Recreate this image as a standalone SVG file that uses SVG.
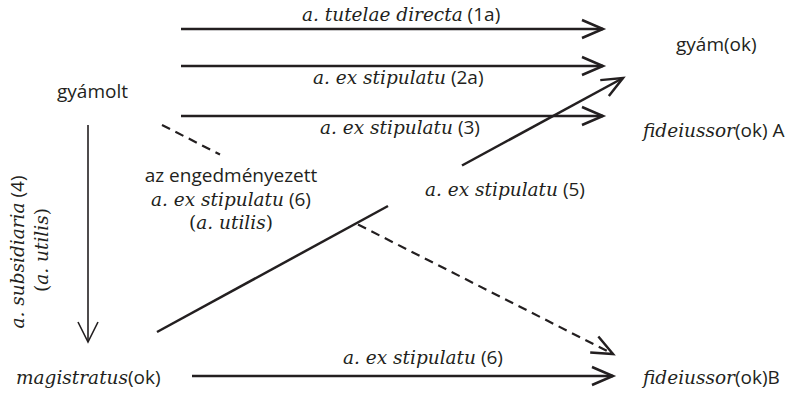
<svg xmlns="http://www.w3.org/2000/svg" width="800" height="395" viewBox="0 0 800 395">
<style>
.sans{font-family:"Open Sans","Liberation Sans",sans-serif;font-size:19px;fill:#231f20}
.it{font-family:"DejaVu Serif","Liberation Serif",serif;font-style:italic;font-size:18.5px;fill:#231f20}
.ser{font-family:"DejaVu Serif","Liberation Serif",serif;font-size:18.5px;fill:#231f20}
.ln{fill:none;stroke:#231f20;stroke-width:2.5}
.thin{fill:none;stroke:#231f20;stroke-width:1.6}
.dash{fill:none;stroke:#231f20;stroke-width:2.2;stroke-dasharray:9 6}
</style>
<defs>
<marker id="ah" markerUnits="userSpaceOnUse" viewBox="-24 -14 28 28" refX="0" refY="0" markerWidth="28" markerHeight="28" orient="auto" overflow="visible">
<path d="M-21,-9 L0,0 L-21,9" fill="none" stroke="#231f20" stroke-width="2.5"/>
</marker>
<marker id="ahThin" markerUnits="userSpaceOnUse" viewBox="-24 -14 28 28" refX="0" refY="0" markerWidth="28" markerHeight="28" orient="auto" overflow="visible">
<path d="M-20,-10 L0,0 L-20,10" fill="none" stroke="#231f20" stroke-width="1.6"/>
</marker>
</defs>
<rect width="800" height="395" fill="#fff"/>

<g id="gyamolt"><text class="sans" x="57" y="98">gyámolt</text></g>
<g id="gyamok"><text class="sans" x="676" y="51">gyám(ok)</text></g>
<g id="fideiussorA"><text x="643" y="137"><tspan class="it">fideiussor</tspan><tspan class="sans">(ok) A</tspan></text></g>
<g id="magistratus"><text x="16" y="384"><tspan class="it">magistratus</tspan><tspan class="sans">(ok)</tspan></text></g>
<g id="fideiussorB"><text x="643" y="384"><tspan class="it">fideiussor</tspan><tspan class="sans">(ok)B</tspan></text></g>

<g id="connectors">
<line class="ln" x1="181" y1="29" x2="603" y2="29" marker-end="url(#ah)"/>
<text x="302" y="21"><tspan class="it">a. tutelae directa</tspan><tspan class="sans"> (1a)</tspan></text>

<line class="ln" x1="181" y1="66" x2="603" y2="66" marker-end="url(#ah)"/>
<text x="313" y="84"><tspan class="it">a. ex stipulatu</tspan><tspan class="sans"> (2a)</tspan></text>

<line class="ln" x1="181" y1="116" x2="603" y2="116" marker-end="url(#ah)"/>
<text x="320" y="134"><tspan class="it">a. ex stipulatu</tspan><tspan class="sans"> (3)</tspan></text>

<line class="thin" x1="88" y1="125" x2="88" y2="342" marker-end="url(#ahThin)"/>
<text transform="translate(24,252) rotate(-90)" text-anchor="middle"><tspan class="it">a. subsidiaria</tspan><tspan class="sans"> (4)</tspan></text>
<text transform="translate(48,250) rotate(-90)" text-anchor="middle"><tspan class="ser">(</tspan><tspan class="it">a. utilis</tspan><tspan class="ser">)</tspan></text>

<line class="ln" x1="157" y1="332" x2="388" y2="206"/>
<line class="ln" x1="462" y1="165.5" x2="623" y2="78" marker-end="url(#ah)"/>
<text x="425" y="196"><tspan class="it">a. ex stipulatu</tspan><tspan class="sans"> (5)</tspan></text>

<line class="dash" x1="162" y1="125" x2="220" y2="154.5"/>
<line class="dash" x1="358" y1="224.5" x2="613" y2="354" marker-end="url(#ah)"/>
<text class="sans" x="231" y="182" text-anchor="middle">az engedményezett</text>
<text x="231" y="206" text-anchor="middle"><tspan class="it">a. ex stipulatu</tspan><tspan class="sans"> (6)</tspan></text>
<text x="231" y="229" text-anchor="middle"><tspan class="ser">(</tspan><tspan class="it">a. utilis</tspan><tspan class="ser">)</tspan></text>

<line class="ln" x1="192" y1="376" x2="613" y2="376" marker-end="url(#ah)"/>
<text x="343" y="364"><tspan class="it">a. ex stipulatu</tspan><tspan class="sans"> (6)</tspan></text>
</g>
</svg>
